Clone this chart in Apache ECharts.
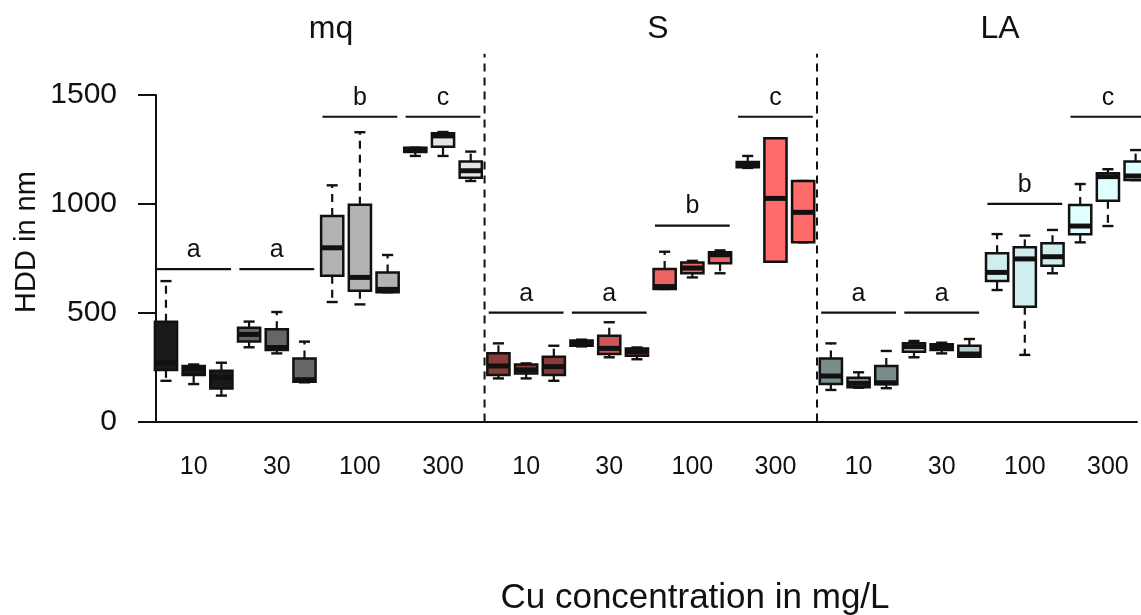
<!DOCTYPE html>
<html>
<head>
<meta charset="utf-8">
<script src="https://cdn.jsdelivr.net/npm/echarts@6/dist/echarts.min.js"></script>
<style>
  html, body { margin: 0; padding: 0; background: #ffffff; }
  #chart { width: 1141px; height: 615px; }
</style>
</head>
<body>
<div id="chart"></div>
<script>
// Panels (water type) and Cu concentration groups (mg/L)
const panels = ['mq', 'S', 'LA'];
const concentrations = ['10', '30', '100', '300'];
const yTicks = [0, 500, 1000, 1500];

// Five-number summaries [min, Q1, median, Q3, max] of HDD (nm),
// three replicates per concentration, in concentration order
const mqStats = [
  [187, 237, 270, 458, 645], [172, 214, 245, 255, 262], [119, 152, 201, 233, 270],
  [341, 367, 400, 431, 459], [313, 328, 340, 424, 503], [180, 183, 192, 290, 367],
  [549, 670, 798, 944, 1085], [538, 601, 662, 996, 1329], [594, 594, 607, 684, 765],
  [1220, 1238, 1250, 1258, 1258], [1220, 1262, 1312, 1324, 1330], [1105, 1120, 1152, 1194, 1240]
];
const sStats = [
  [198, 214, 255, 313, 359], [198, 221, 237, 262, 267], [187, 214, 252, 298, 348],
  [345, 348, 360, 372, 376], [295, 310, 336, 394, 456], [286, 302, 320, 335, 340],
  [609, 609, 620, 701, 780], [662, 681, 705, 730, 738], [681, 727, 766, 778, 786],
  [1165, 1168, 1180, 1192, 1220], [734, 734, 1025, 1301, 1301], [823, 823, 961, 1105, 1105]
];
const laStats = [
  [145, 172, 209, 290, 359], [155, 157, 175, 201, 226], [153, 171, 178, 255, 324],
  [295, 321, 344, 359, 370], [313, 328, 342, 355, 362], [298, 298, 310, 348, 379],
  [604, 645, 685, 773, 861], [306, 527, 747, 800, 854], [681, 716, 757, 819, 880],
  [823, 860, 898, 995, 1091], [898, 1014, 1125, 1140, 1159], [1109, 1109, 1128, 1194, 1247]
];

// Fill colour per concentration
const mqColors = ['#1A1A1A', '#666666', '#B3B3B3', '#E5E5E5'];
const sColors = ['#8B3A3A', '#CD5555', '#EE6363', '#FF6A6A'];
const laColors = ['#7A8B8B', '#B4CDCD', '#D1EEEE', '#E0FFFF'];

// Significance letters and the height of their bars
const groupLetters = ['a', 'a', 'b', 'c'];
const mqLetterHeights = [700, 700, 1400, 1400];
const sLetterHeights = [500, 500, 900, 1400];
const laLetterHeights = [500, 500, 1000, 1400];

const REPS = 3;
const SEPARATOR_TOP = 1690;
const FONT = "'Liberation Sans', Arial, sans-serif";
const INK = '#111111';

const panelStats = [mqStats, sStats, laStats];
const panelColors = [mqColors, sColors, laColors];
const panelLetterHeights = [mqLetterHeights, sLetterHeights, laLetterHeights];
const perPanel = concentrations.length * REPS;

// Box items: x position 1..36
const boxData = [];
panelStats.forEach((stats, p) => {
  stats.forEach((s, i) => {
    boxData.push({
      value: [p * perPanel + i + 1, s[0], s[1], s[2], s[3], s[4]],
      itemStyle: { color: panelColors[p][Math.floor(i / REPS)] }
    });
  });
});

// Letter bars centred on the middle replicate of each group
const letterData = [];
const letterText = [];
panels.forEach((name, p) => {
  concentrations.forEach((c, g) => {
    letterData.push([p * perPanel + g * REPS + 2, panelLetterHeights[p][g]]);
    letterText.push(groupLetters[g]);
  });
});

// Dashed panel separators
const separatorData = [];
for (let p = 1; p < panels.length; p++) separatorData.push([p * perPanel + 0.5]);

// Axis labels under the middle replicate of each group
const labelPositions = [];
panels.forEach((name, p) => concentrations.forEach((c, g) => labelPositions.push(p * perPanel + g * REPS + 2)));

function renderBox(params, api) {
  const x = api.value(0);
  const mn = api.value(1), q1 = api.value(2), md = api.value(3), q3 = api.value(4), mx = api.value(5);
  const half = api.size([0.8, 0])[0] / 2;
  const staple = half / 2;
  const cx = api.coord([x, 0])[0];
  const py = v => api.coord([x, v])[1];
  const dashed = { stroke: INK, lineWidth: 2.2, lineDash: [8, 6] };
  const solid = { stroke: INK, lineWidth: 2.4 };
  const seg = (x1, y1, x2, y2, style) => ({ type: 'line', shape: { x1, y1, x2, y2 }, style });
  const children = [];
  if (mx > q3) children.push(seg(cx, py(q3), cx, py(mx), dashed));
  if (mn < q1) children.push(seg(cx, py(q1), cx, py(mn), dashed));
  children.push(seg(cx - staple, py(mx), cx + staple, py(mx), solid));
  children.push(seg(cx - staple, py(mn), cx + staple, py(mn), solid));
  children.push({
    type: 'rect',
    shape: { x: cx - half, y: py(q3), width: 2 * half, height: py(q1) - py(q3) },
    style: { fill: api.visual('color'), stroke: INK, lineWidth: 2.5 }
  });
  children.push(seg(cx - half, py(md), cx + half, py(md), { stroke: INK, lineWidth: 5 }));
  return { type: 'group', children };
}

function renderLetter(params, api) {
  const x = api.value(0), h = api.value(1);
  const left = api.coord([x - 1.35, h]);
  const right = api.coord([x + 1.35, h]);
  const mid = api.coord([x, h]);
  return {
    type: 'group',
    children: [
      { type: 'line', shape: { x1: left[0], y1: left[1], x2: right[0], y2: right[1] },
        style: { stroke: INK, lineWidth: 2.2 } },
      { type: 'text', x: mid[0], y: mid[1] - 19,
        style: { text: letterText[params.dataIndex], fill: INK, font: '25px ' + FONT,
                 align: 'center', verticalAlign: 'middle' } }
    ]
  };
}

function renderSeparator(params, api) {
  const x = api.value(0);
  const a = api.coord([x, 0]);
  const b = api.coord([x, SEPARATOR_TOP]);
  return { type: 'line', shape: { x1: a[0], y1: a[1], x2: b[0], y2: b[1] },
           style: { stroke: INK, lineWidth: 2, lineDash: [8, 6] } };
}

const chart = echarts.init(document.getElementById('chart'), null, { renderer: 'canvas' });
chart.setOption({
  animation: false,
  backgroundColor: '#ffffff',
  grid: { left: 156, right: 4, top: 95, bottom: 193.5, containLabel: false, outerBoundsMode: 'none' },
  xAxis: {
    type: 'value',
    min: 0.64,
    max: 36.05,
    axisLine: { show: true, onZero: false, lineStyle: { color: INK, width: 2 } },
    axisTick: { show: false },
    splitLine: { show: false },
    axisLabel: {
      customValues: labelPositions,
      formatter: v => concentrations[Math.round((v - 2) / REPS) % concentrations.length],
      fontSize: 25, fontFamily: FONT, color: INK, margin: 46, verticalAlign: 'middle'
    }
  },
  yAxis: {
    type: 'value',
    min: yTicks[0],
    max: yTicks[yTicks.length - 1],
    interval: yTicks[1] - yTicks[0],
    axisLine: { show: true, onZero: false, lineStyle: { color: INK, width: 2 } },
    axisTick: { show: true, length: 18, lineStyle: { color: INK, width: 2 } },
    splitLine: { show: false },
    axisLabel: { fontSize: 30, fontFamily: FONT, color: INK, margin: 39, formatter: v => String(v) }
  },
  graphic: [
    { type: 'text', x: 331, y: 29, style: { text: panels[0], font: '32px ' + FONT, fill: INK, align: 'center', verticalAlign: 'middle' } },
    { type: 'text', x: 658, y: 29, style: { text: panels[1], font: '32px ' + FONT, fill: INK, align: 'center', verticalAlign: 'middle' } },
    { type: 'text', x: 1000, y: 29, style: { text: panels[2], font: '32px ' + FONT, fill: INK, align: 'center', verticalAlign: 'middle' } },
    { type: 'text', x: 695, y: 598, style: { text: 'Cu concentration in mg/L', font: '35px ' + FONT, fill: INK, align: 'center', verticalAlign: 'middle' } },
    { type: 'text', x: 27, y: 242, rotation: Math.PI / 2, style: { text: 'HDD in nm', font: '29px ' + FONT, fill: INK, align: 'center', verticalAlign: 'middle' } }
  ],
  series: [
    { type: 'custom', name: 'separators', renderItem: renderSeparator, data: separatorData, clip: false, silent: true },
    { type: 'custom', name: 'letters', renderItem: renderLetter, data: letterData, clip: false, silent: true },
    { type: 'custom', name: 'HDD', renderItem: renderBox, data: boxData, clip: false,
      encode: { x: 0, y: [1, 2, 3, 4, 5] } }
  ]
});
</script>
</body>
</html>
